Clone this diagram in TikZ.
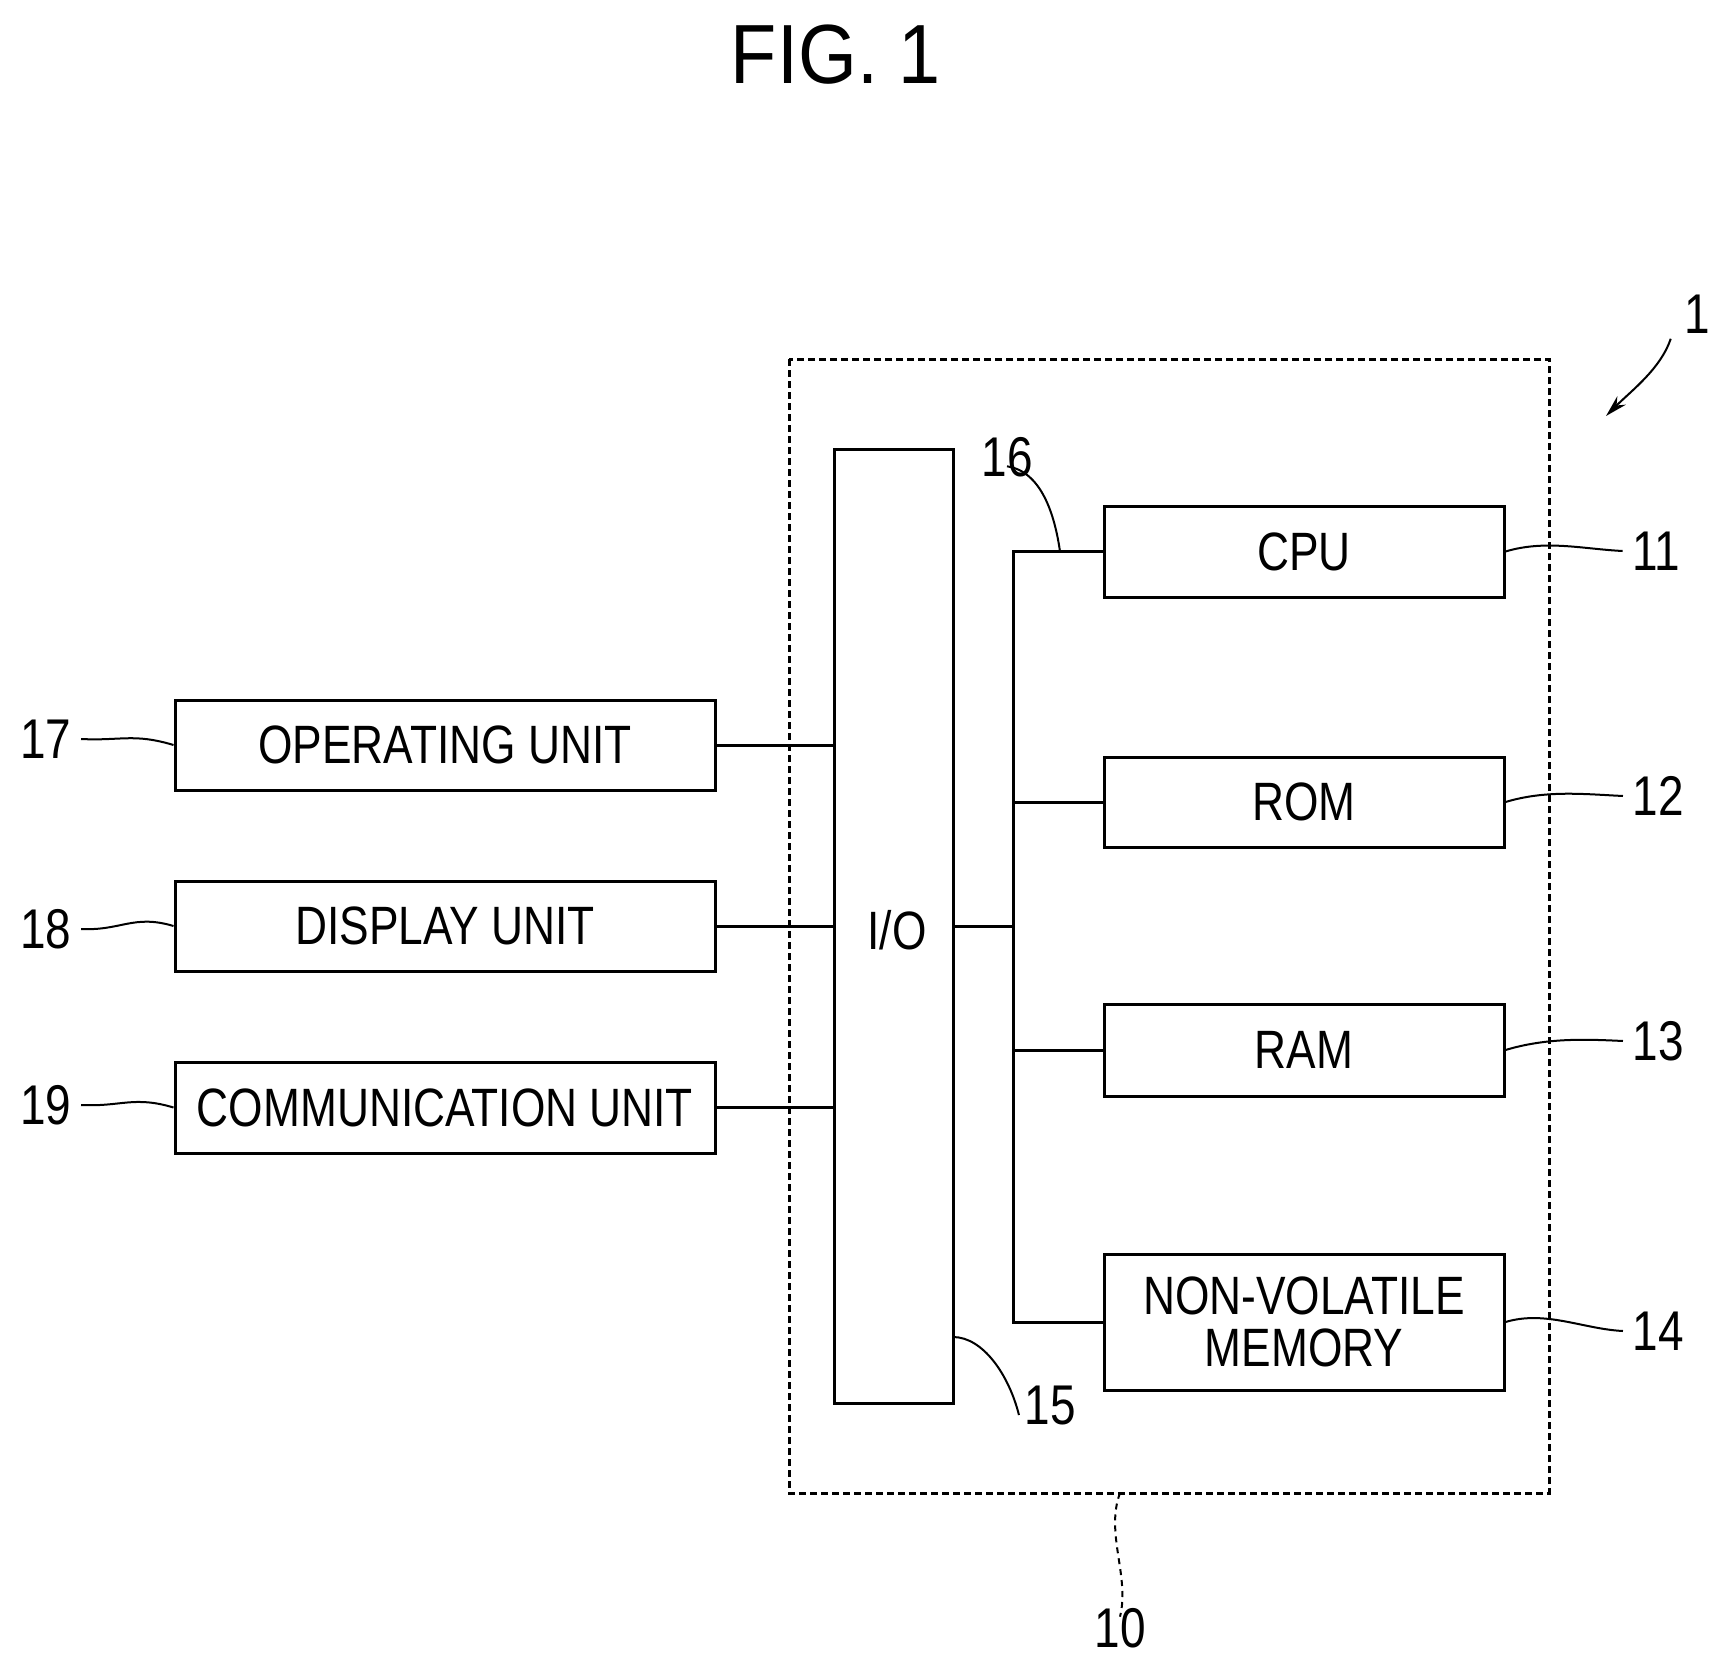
\documentclass[tikz,border=0pt]{standalone}
\usetikzlibrary{arrows.meta}
\usepackage{fontspec}
\setmainfont{Liberation Sans}
\usepackage{graphicx}
\newcommand{\bt}[1]{\scalebox{0.82}[1]{#1}}
\begin{document}
\begin{tikzpicture}[x=1pt,y=-1pt,line width=3pt,
  box/.style={draw,rectangle,inner sep=0pt,font=\fontsize{54}{56}\selectfont},
  num/.style={inner sep=0pt,font=\fontsize{56}{58}\selectfont},
  lead/.style={line width=2pt}]
\useasboundingbox (0,0) rectangle (1717,1662);
\node[inner sep=0pt,font=\fontsize{84}{86}\selectfont] (title) at (836,55) {\scalebox{0.9}[1]{FIG. 1}};
\draw[line width=3pt,dash pattern=on 7pt off 4pt] (789,359) rectangle (1549,1493);
\coordinate (dbot) at (1120,1493);
\node[box,minimum width=119,minimum height=954] (io) at (893.5,926) {};
\node[font=\fontsize{54}{56}\selectfont] (iot) at (897,930) {\bt{I/O}};
\node[box,minimum width=540,minimum height=90] (op) at (445,745) {\bt{OPERATING UNIT}};
\node[box,minimum width=540,minimum height=90] (disp) at (445,926) {\bt{DISPLAY UNIT}};
\node[box,minimum width=540,minimum height=91] (comm) at (445,1107.5) {\bt{COMMUNICATION UNIT}};
\node[box,minimum width=400,minimum height=91] (cpu) at (1304,551.5) {\bt{CPU}};
\node[box,minimum width=400,minimum height=90] (rom) at (1304,802) {\bt{ROM}};
\node[box,minimum width=400,minimum height=92] (ram) at (1304,1050) {\bt{RAM}};
\node[box,minimum width=400,minimum height=136,align=center,font=\fontsize{54}{52}\selectfont] (nvm) at (1304,1322) {\bt{NON-VOLATILE}\\\bt{MEMORY}};
\draw (op.east) -- (op.east -| io.west);
\draw (disp.east) -- (disp.east -| io.west);
\draw (comm.east) -- (comm.east -| io.west);
\coordinate (bt) at (1013,551.5);
\coordinate (bb) at (1013,1322);
\draw (io.east |- disp.east) -- (1013,926);
\draw (cpu.west) -- (bt) -- (bb) -- (nvm.west);
\draw (rom.west) -- (rom.west -| bt);
\draw (ram.west) -- (ram.west -| bt);
% numbers
\node[num] (n1) at (1697,314) {\bt{1}};
\node[num] (n10) at (1120,1628) {\bt{10}};
\node[num] (n11) at (1656,551) {\bt{11}};
\node[num] (n12) at (1658,796) {\bt{12}};
\node[num] (n13) at (1658,1041) {\bt{13}};
\node[num] (n14) at (1658,1331) {\bt{14}};
\node[num] (n15) at (1050,1405) {\bt{15}};
\node[num] (n16) at (1007,457) {\bt{16}};
\node[num] (n17) at (46,739) {\bt{17}};
\node[num] (n18) at (46,929) {\bt{18}};
\node[num] (n19) at (46,1105) {\bt{19}};
% leaders
\foreach \b/\n in {cpu/n11,rom/n12,ram/n13,nvm/n14}
  \draw[lead] (\b.east) .. controls +(40,-12) and +(-40,-2) .. ([xshift=-8pt]\n.west);
\foreach \b/\n in {op/n17,disp/n18,comm/n19}
  \draw[lead] (\b.west) .. controls +(-40,-12) and +(40,2) .. ([xshift=8pt]\n.east);
\coordinate (l15) at (953,1337);
\draw[lead] (l15) .. controls +(30,0) and +(-10,-40) .. ([xshift=-4pt,yshift=-10pt]n15.west);
\coordinate (l16) at (1060,551.5);
\draw[lead] (l16) .. controls +(-5,-35) and +(35,5) .. ([yshift=12pt]n16.south);
\draw[lead,dash pattern=on 6pt off 5pt] (dbot) .. controls +(-15,40) and +(10,-40) .. ([yshift=-10pt]n10.north);
\coordinate (a1) at (1606,416);
\draw[lead,-{Stealth[length=22pt,width=12pt]}] ([xshift=-12pt,yshift=-4pt]n1.south west) .. controls +(-10,30) and +(25,-25) .. (a1);
\end{tikzpicture}
\end{document}
